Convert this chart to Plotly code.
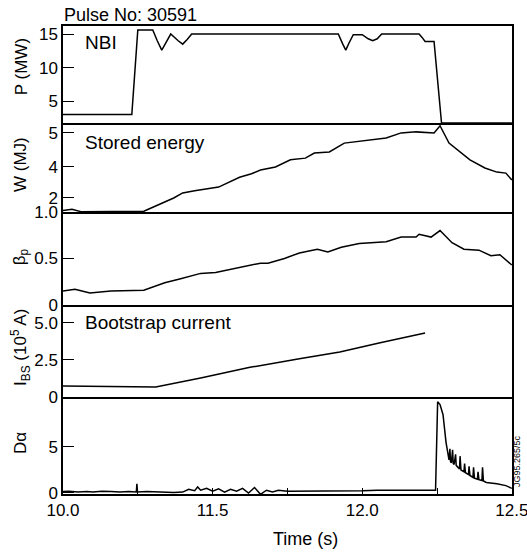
import plotly.graph_objects as go

# ---------------- data ----------------
p_time = [11.00, 11.23, 11.25, 11.30, 11.315, 11.33, 11.345, 11.36, 11.385, 11.40, 11.415, 11.43,
          11.60, 11.80, 11.92, 11.935, 11.945, 11.955, 11.97, 12.00, 12.02, 12.035, 12.05, 12.065,
          12.19, 12.20, 12.21, 12.24, 12.265, 12.50]
p_mw = [3.0, 3.0, 15.6, 15.6, 14.0, 12.6, 13.8, 15.0, 14.0, 13.5, 14.2, 15.0,
        15.0, 15.0, 15.0, 13.5, 12.6, 13.6, 14.9, 14.9, 14.3, 14.0, 14.3, 15.0,
        15.0, 14.5, 13.9, 13.9, 1.75, 1.75]

w_time = [11.00, 11.03, 11.06, 11.15, 11.20, 11.27, 11.37, 11.40, 11.44, 11.52, 11.59, 11.63,
          11.66, 11.71, 11.76, 11.81, 11.84, 11.89, 11.94, 11.99, 12.08, 12.13, 12.18, 12.24,
          12.26, 12.29, 12.36, 12.41, 12.45, 12.48, 12.50]
w_mj = [2.72, 2.76, 2.69, 2.69, 2.70, 2.70, 3.09, 3.24, 3.30, 3.41, 3.70, 3.80,
        3.91, 4.00, 4.21, 4.26, 4.41, 4.44, 4.70, 4.76, 4.85, 5.00, 5.03, 5.00,
        5.21, 4.70, 4.21, 3.97, 3.85, 3.82, 3.62]

beta_time = [11.00, 11.04, 11.09, 11.16, 11.27, 11.34, 11.39, 11.46, 11.51, 11.59, 11.66, 11.685,
             11.74, 11.79, 11.85, 11.885, 11.93, 11.99, 12.08, 12.13, 12.18, 12.19, 12.23, 12.26,
             12.30, 12.34, 12.39, 12.43, 12.46, 12.50]
beta_p = [0.15, 0.17, 0.13, 0.15, 0.16, 0.24, 0.28, 0.34, 0.35, 0.40, 0.45, 0.45,
          0.50, 0.56, 0.60, 0.57, 0.62, 0.66, 0.68, 0.73, 0.73, 0.76, 0.73, 0.80,
          0.67, 0.60, 0.59, 0.53, 0.54, 0.43]

ibs_time = [11.00, 11.31, 11.46, 11.625, 11.79, 11.925, 12.06, 12.21]
ibs_val = [0.74, 0.68, 1.28, 2.0, 2.57, 3.04, 3.65, 4.32]

d_time = [11.00, 11.02, 11.05, 11.08, 11.10, 11.13, 11.16, 11.19, 11.22, 11.245, 11.247, 11.249,
          11.28, 11.31, 11.34, 11.37, 11.40, 11.42, 11.44, 11.45, 11.46, 11.48, 11.50, 11.52,
          11.54, 11.56, 11.58, 11.60, 11.62, 11.64, 11.66, 11.68, 11.70, 11.72, 11.75, 11.80,
          11.85, 11.90, 11.95, 12.00, 12.05, 12.10, 12.15, 12.20, 12.245, 12.252, 12.26, 12.27,
          12.28, 12.29, 12.293, 12.295, 12.298, 12.302, 12.304, 12.307, 12.312, 12.314, 12.317,
          12.325, 12.327, 12.33, 12.34, 12.342, 12.345, 12.355, 12.357, 12.36, 12.37, 12.372,
          12.375, 12.385, 12.387, 12.39, 12.40, 12.402, 12.405, 12.415, 12.45, 12.48, 12.50]
d_alpha = [0.15, 0.2, 0.1, 0.15, 0.1, 0.2, 0.15, 0.1, 0.15, 0.1, 1.0, 0.1,
           0.15, 0.1, 0.1, 0.05, 0.1, 0.4, 0.25, 0.65, 0.3, 0.5, 0.2, 0.45,
           0.1, 0.4, 0.2, 0.5, 0.0, 0.6, -0.15, 0.3, 0.1, 0.3, 0.2, 0.2,
           0.2, 0.2, 0.25, 0.25, 0.3, 0.3, 0.3, 0.3, 0.3, 9.9, 9.6, 8.5,
           5.5, 3.6, 4.8, 3.4, 3.3, 4.7, 3.2, 3.1, 4.2, 3.0, 2.9,
           2.6, 4.0, 2.5, 2.3, 3.2, 2.2, 2.0, 2.9, 1.9, 1.7, 2.8,
           1.6, 1.5, 2.3, 1.45, 1.35, 2.8, 1.3, 1.15, 1.0, 0.8, 0.5]

time_tick_vals = [11.0, 11.25, 11.5, 11.75, 12.0, 12.25, 12.5]
time_tick_labels = ["10.0", "", "11.5", "", "12.0", "", "12.5"]

p_tick_vals = [5, 10, 15]
p_tick_labels = ["5", "10", "15"]
w_tick_vals = [3.1, 4, 5]
w_tick_labels = ["2", "4", "5"]
beta_tick_vals = [0, 0.5, 1.0]
beta_tick_labels = ["0", "0.5", "1.0"]
ibs_tick_vals = [0, 2.5, 5.0]
ibs_tick_labels = ["0", "2.5", "5.0"]
d_tick_vals = [0, 5]
d_tick_labels = ["0", "5"]

# ---------------- figure ----------------
FONT = "Liberation Sans, Arial, sans-serif"
LW = 1.5
fig = go.Figure()
series = [(p_time, p_mw), (w_time, w_mj), (beta_time, beta_p), (ibs_time, ibs_val), (d_time, d_alpha)]
for i, (t, v) in enumerate(series, start=1):
    fig.add_trace(go.Scatter(x=t, y=v, mode="lines", line=dict(color="black", width=1.5),
                             xaxis=f"x{i}" if i > 1 else "x", yaxis=f"y{i}" if i > 1 else "y",
                             showlegend=False, hoverinfo="skip"))

domains = [(0.7927, 1.0), (0.6026, 0.7927), (0.4038, 0.6026), (0.2073, 0.4038), (0.0, 0.2073)]
ranges = [(1.75, 16.2), (2.68, 5.29), (0.0, 1.0), (0.0, 6.2), (-0.11, 10.43)]
yticks = [(p_tick_vals, p_tick_labels), (w_tick_vals, w_tick_labels), (beta_tick_vals, beta_tick_labels),
          (ibs_tick_vals, ibs_tick_labels), (d_tick_vals, d_tick_labels)]

layout = dict(width=527, height=553, margin=dict(l=63, r=15, t=26, b=59, autoexpand=False),
              paper_bgcolor="white", plot_bgcolor="white",
              font=dict(family=FONT, size=17, color="black"))
for i in range(1, 6):
    xk = "xaxis" if i == 1 else f"xaxis{i}"
    yk = "yaxis" if i == 1 else f"yaxis{i}"
    ya = "y" if i == 1 else f"y{i}"
    xa = dict(domain=[0, 1], range=[11.0, 12.5005], anchor=ya, showline=True, mirror=(i == 1),
              linecolor="black", linewidth=LW, showgrid=False, zeroline=False, automargin=False)
    if i < 5:
        xa.update(matches="x5", showticklabels=False, ticks="")
    else:
        xa.update(tickmode="array", tickvals=time_tick_vals, ticktext=time_tick_labels,
                  ticks="inside", ticklen=6, tickwidth=1.4, tickcolor="black",
                  ticklabeloverflow="allow",
                  tickfont=dict(size=17, family=FONT))
    layout[xk] = xa
    tv, tt = yticks[i - 1]
    layout[yk] = dict(domain=list(domains[i - 1]), range=list(ranges[i - 1]),
                      anchor="x" if i == 1 else f"x{i}", automargin=False,
                      showline=True, mirror=True, linecolor="black", linewidth=LW,
                      showgrid=False, zeroline=False, tickmode="array", tickvals=tv, ticktext=tt,
                      ticks="inside", ticklen=11, tickwidth=1.4, tickcolor="black",
                      ticklabeloverflow="allow",
                      tickfont=dict(size=17, family=FONT))
fig.update_layout(**layout)

def ann(text, x, y, size=17, xanchor="left", angle=0):
    fig.add_annotation(text=text, x=x, y=y, xref="paper", yref="paper", showarrow=False,
                       xanchor=xanchor, yanchor="middle", textangle=angle,
                       font=dict(size=size, family=FONT, color="black"))

ann("Pulse No: 30591", -0.002, 1.024, size=18)
ann("NBI", 0.0445, 0.964, size=19)
ann("Stored energy", 0.0445, 0.752, size=19)
ann("Bootstrap current", 0.0445, 0.3675, size=19)
ann("Time (s)", 0.539, -0.096, size=18, xanchor="center")
ann("P (MW)", -0.0935, 0.912, xanchor="center", angle=-90)
ann("W (MJ)", -0.0935, 0.703, xanchor="center", angle=-90)
ann("β<sub>p</sub>", -0.0935, 0.506, xanchor="center", angle=-90)
ann("I<sub>BS</sub> (10<sup>5</sup> A)", -0.0935, 0.312, xanchor="center", angle=-90)
ann("Dα", -0.0935, 0.109, xanchor="center", angle=-90)
ann("JG95.265/5c", 1.011, 0.0705, size=9, xanchor="center", angle=-90)

fig.write_html("out.html", config={"displayModeBar": False},
               post_script="document.body.style.margin='0px';document.body.style.overflow='hidden';")
